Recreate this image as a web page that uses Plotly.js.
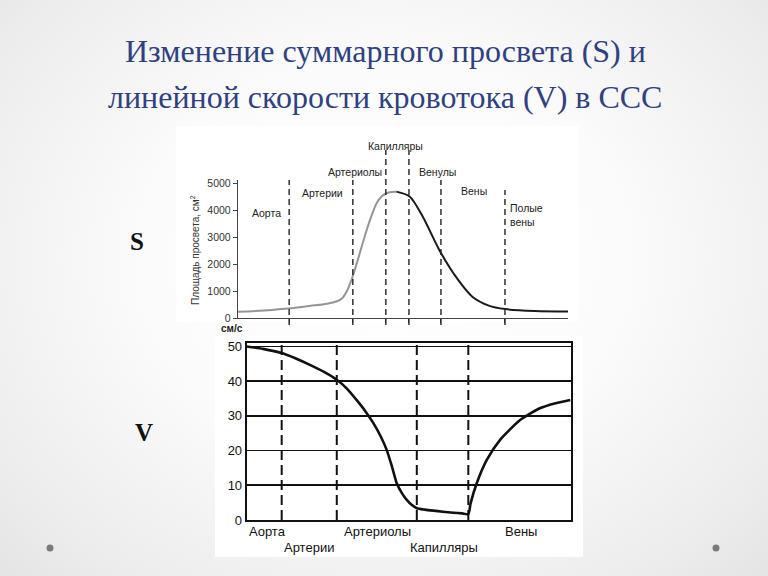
<!DOCTYPE html>
<html>
<head>
<meta charset="utf-8">
<script src="https://cdn.plot.ly/plotly-3.0.1.min.js"></script>
<style>
  html, body { margin:0; padding:0; }
  body { width:768px; height:576px; overflow:hidden;
    background: radial-gradient(ellipse at 50% 45%, #ffffff 0%, #fbfbfb 45%, #ececec 85%, #e4e4e4 100%); }
  #chart { width:768px; height:576px; }
</style>
</head>
<body>
<div id="chart"></div>
<script>
// ---- Data: S (total cross-section, cm^2) ----
var sX_rise = [0, 8, 16, 22, 27, 30, 31.5, 33, 34.5, 36, 37.5, 39, 40.5, 42, 43.5, 45, 46.5, 48];
var sY_rise = [230, 280, 360, 450, 530, 620, 720, 1000, 1450, 2025, 2650, 3260, 3800, 4250, 4500, 4620, 4670, 4680];
var sX_fall = [48, 52, 56, 61, 66, 71, 76, 81, 90, 100];
var sY_fall = [4680, 4500, 3750, 2520, 1530, 790, 460, 330, 260, 240];
var sBoundaries = [15.5, 34.8, 44.8, 51.8, 61.5, 80.9];
var sTickVals = [0, 1000, 2000, 3000, 4000, 5000];
var sSegments = ["Аорта", "Артерии", "Артериолы", "Капилляры", "Венулы", "Вены", "Полые<br>вены"];
var sAxisTitle = "Площадь просвета, см<sup>2</sup>";

// ---- Data: V (linear velocity, cm/s) ----
var vX = [0, 5, 10.8, 15, 19.5, 24, 27.8, 31, 33.9, 36.5, 39.1, 41.3, 43.2, 44.8, 46.3, 48, 49.4, 51, 52.5, 55, 57.6, 60.5, 63.8, 66.5, 68.4, 69.1, 71, 74.1, 78.2, 84.4, 90.5, 95, 99.9];
var vY = [50, 49.3, 48.1, 46.6, 44.7, 42.6, 40.4, 37.8, 34.6, 31.5, 27.9, 24.2, 20.2, 15.5, 10.6, 7.6, 5.8, 4.3, 3.4, 3.0, 2.7, 2.4, 2.1, 1.9, 1.7, 4.8, 10.6, 17.3, 23.1, 28.8, 32.2, 33.6, 34.6];
var vBoundaries = [10.8, 27.8, 52.5, 68.4];
var vTickVals = [0, 10, 20, 30, 40, 50];
var vSegmentsRow1 = ["Аорта", "Артериолы", "Вены"];
var vSegmentsRow2 = ["Артерии", "Капилляры"];
var vUnit = "см/с";

var titleLines = ["Изменение суммарного просвета (S) и", "линейной скорости кровотока (V) в ССС"];

// pixel -> paper helpers
var W = 768, H = 576;
function px(x) { return x / W; }
function py(y) { return 1 - y / H; }

var fontSans = "Liberation Sans, Arial, sans-serif";

var traces = [
  { x: sX_rise, y: sY_rise, type: "scatter", mode: "lines", line: {color: "#959595", width: 2, shape: "spline", smoothing: 0.8}, xaxis: "x", yaxis: "y", hoverinfo: "skip" },
  { x: sX_fall, y: sY_fall, type: "scatter", mode: "lines", line: {color: "#1a1a1a", width: 2, shape: "spline", smoothing: 0.8}, xaxis: "x", yaxis: "y", hoverinfo: "skip" },
  { x: vX, y: vY, type: "scatter", mode: "lines", line: {color: "#111", width: 2.6, shape: "spline", smoothing: 0.6}, xaxis: "x2", yaxis: "y2", hoverinfo: "skip" }
];

var shapes = [
  // white picture panels
  { type: "rect", xref: "paper", yref: "paper", x0: px(176), x1: px(578), y0: py(322), y1: py(126), fillcolor: "#ffffff", line: {width: 0}, layer: "below" },
  { type: "rect", xref: "paper", yref: "paper", x0: px(215), x1: px(583), y0: py(557), y1: py(336), fillcolor: "#ffffff", line: {width: 0}, layer: "below" }
];
// S chart dashed boundaries (heights differ)
var sTops = [180, 180, 150, 150, 180, 190];
sBoundaries.forEach(function (b, i) {
  shapes.push({ type: "line", xref: "x", yref: "paper", x0: b, x1: b, y0: py(325), y1: py(sTops[i]),
    line: {color: "#222", width: 1.4, dash: "6px,4px"} });
});
// V chart dashed boundaries
vBoundaries.forEach(function (b) {
  shapes.push({ type: "line", xref: "x2", yref: "y2", x0: b, x1: b, y0: 0, y1: 51,
    line: {color: "#111", width: 2, dash: "10px,5px"} });
});

var annotations = [
  { text: titleLines[0], xref: "paper", yref: "paper", x: px(385), y: py(51), xanchor: "center", yanchor: "middle", showarrow: false,
    font: {family: "Liberation Serif, Times New Roman, serif", size: 32, color: "#2f4180"} },
  { text: titleLines[1], xref: "paper", yref: "paper", x: px(385), y: py(97), xanchor: "center", yanchor: "middle", showarrow: false,
    font: {family: "Liberation Serif, Times New Roman, serif", size: 32, color: "#2f4180"} },
  { text: "<b>S</b>", xref: "paper", yref: "paper", x: px(137), y: py(241), xanchor: "center", yanchor: "middle", showarrow: false, font: {family: "Liberation Serif, serif", size: 25, color: "#111"} },
  { text: "<b>V</b>", xref: "paper", yref: "paper", x: px(144), y: py(432), xanchor: "center", yanchor: "middle", showarrow: false, font: {family: "Liberation Serif, serif", size: 25, color: "#111"} },
  { text: sAxisTitle, xref: "paper", yref: "paper", x: px(195), y: py(250), xanchor: "center", yanchor: "middle", textangle: -90, showarrow: false, font: {family: fontSans, size: 10, color: "#333"} },
  { text: "<b>" + vUnit + "</b>", xref: "paper", yref: "paper", x: px(232), y: py(328), xanchor: "center", yanchor: "middle", showarrow: false, font: {family: fontSans, size: 10, color: "#222"} }
];
// S segment labels
var sLabelPos = [[266, 213, "center"], [322, 193, "center"], [355, 172, "center"], [395, 146, "center"], [437, 172, "center"], [474, 191, "center"], [508, 215, "left"]];
sSegments.forEach(function (t, i) {
  var p = sLabelPos[i];
  annotations.push({ text: t, xref: "paper", yref: "paper", x: px(p[0]), y: py(p[1]), xanchor: p[2], yanchor: "middle",
    align: "left", showarrow: false, font: {family: fontSans, size: 10.5, color: "#222"} });
});
// V segment labels
var vRow1Pos = [247, 342, 503];
vSegmentsRow1.forEach(function (t, i) {
  annotations.push({ text: t, xref: "paper", yref: "paper", x: px(vRow1Pos[i]), y: py(531), xanchor: "left", yanchor: "middle",
    showarrow: false, font: {family: fontSans, size: 13, color: "#111"} });
});
var vRow2Pos = [282, 408];
vSegmentsRow2.forEach(function (t, i) {
  annotations.push({ text: t, xref: "paper", yref: "paper", x: px(vRow2Pos[i]), y: py(547), xanchor: "left", yanchor: "middle",
    showarrow: false, font: {family: fontSans, size: 13, color: "#111"} });
});

// bullets
shapes.push({ type: "circle", xref: "paper", yref: "paper", x0: px(46.5), x1: px(53.5), y0: py(551.5), y1: py(544.5), fillcolor: "#7a7a7a", line: {width: 0} });
shapes.push({ type: "circle", xref: "paper", yref: "paper", x0: px(712.5), x1: px(719.5), y0: py(551.5), y1: py(544.5), fillcolor: "#7a7a7a", line: {width: 0} });

var layout = {
  width: W, height: H,
  margin: {l: 0, r: 0, t: 0, b: 0},
  paper_bgcolor: "rgba(0,0,0,0)",
  plot_bgcolor: "rgba(0,0,0,0)",
  showlegend: false,
  xaxis: { domain: [px(238), px(568)], range: [0, 100], showgrid: false, zeroline: false, showline: true, linecolor: "#444", linewidth: 1.2,
    tickvals: sBoundaries, ticks: "outside", ticklen: 4, tickcolor: "#444", showticklabels: false, anchor: "y" },
  yaxis: { domain: [py(318), py(180)], range: [0, 5111], showgrid: false, zeroline: false, showline: true, linecolor: "#444", linewidth: 1.2,
    tickvals: sTickVals, ticks: "outside", ticklen: 4, tickcolor: "#444", tickfont: {family: fontSans, size: 10.5, color: "#333"}, anchor: "x" },
  xaxis2: { domain: [px(246.7), px(570.7)], range: [0, 100], showgrid: false, zeroline: false, showline: true, mirror: true, linecolor: "#111", linewidth: 2,
    showticklabels: false, ticks: "", anchor: "y2" },
  yaxis2: { domain: [py(520), py(343)], range: [0, 51], showgrid: true, gridcolor: "#111", gridwidth: 1.6, zeroline: false, showline: true, mirror: true,
    linecolor: "#111", linewidth: 2, tickvals: vTickVals, ticks: "", tickfont: {family: fontSans, size: 13, color: "#111"}, anchor: "x2" },
  shapes: shapes,
  annotations: annotations
};

Plotly.newPlot("chart", traces, layout, {staticPlot: true, displayModeBar: false});
</script>
</body>
</html>
